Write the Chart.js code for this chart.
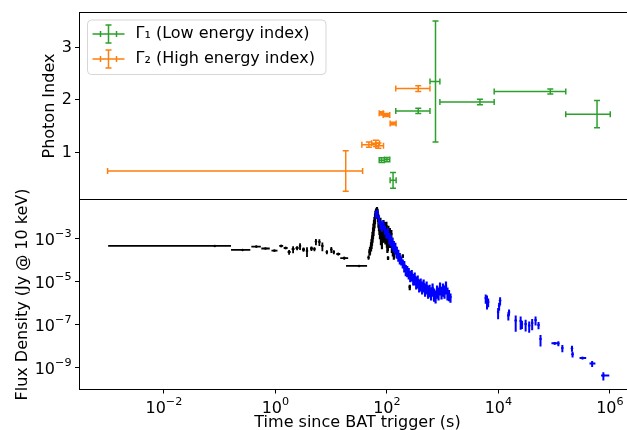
<!DOCTYPE html>
<html>
<head>
<meta charset="utf-8">
<script src="https://cdn.jsdelivr.net/npm/chart.js@4.4.1/dist/chart.umd.min.js"></script>
<style>
html, body { margin: 0; padding: 0; background: #fff; overflow: hidden; width: 627px; height: 430px; }
#wrap { position: relative; width: 640px; height: 440px; }
canvas { position: absolute; left: 0; top: 0; }
</style>
</head>
<body>
<div id="wrap">
<canvas id="fluxChart" width="640" height="440"></canvas>
<canvas id="indexChart" width="640" height="440"></canvas>
</div>
<script>
// photon index, Gamma 1 (low energy)
var g1Time = [78.2, 98, 126, 356, 725, 4530, 82400, 566000];
var g1TimeLo = [71.2, 88.5, 111.7, 141, 578, 869, 8150, 156000];
var g1TimeHi = [88.5, 110, 143, 577, 869, 8150, 156000, 975000];
var g1Index = [0.855, 0.865, 0.47, 1.79, 2.35, 1.96, 2.16, 1.73];
var g1Err = [0.045, 0.04, 0.15, 0.05, 1.15, 0.053, 0.047, 0.26];

// photon index, Gamma 2 (high energy)
var g2Time = [17.9, 46.5, 62, 69, 78.2, 96, 126, 356];
var g2TimeLo = [0.000975, 34.8, 52, 62, 71.2, 84, 111.7, 141];
var g2TimeHi = [35.9, 62, 72, 85, 84, 110, 143, 577];
var g2Index = [0.65, 1.15, 1.175, 1.13, 1.746, 1.714, 1.551, 2.216];
var g2Err = [0.385, 0.05, 0.06, 0.05, 0.03, 0.03, 0.025, 0.056];

// BAT binned light curve (black)
var batTime = [0.0817, 0.258, 0.454, 0.664, 0.961, 1.27, 1.527, 1.762, 2.077, 2.448, 2.767, 3.194, 3.688, 4.434, 5.015, 5.333, 6.156, 6.96, 8.37, 10.07, 11.16, 13.42, 17.17, 31.7, 46.9];
var batTimeLo = [0.001, 0.160, 0.370, 0.559, 0.850, 1.170, 1.406, 1.658, 1.953, 2.301, 2.656, 3.005, 3.539, 4.171, 4.813, 5.226, 6.032, 6.82, 8.04, 9.67, 10.71, 12.37, 14.56, 18.5, 45.9];
var batTimeHi = [0.160, 0.355, 0.548, 0.792, 1.091, 1.379, 1.658, 1.875, 2.208, 2.603, 2.884, 3.398, 3.843, 4.716, 5.226, 5.445, 6.28, 7.11, 8.72, 10.49, 11.62, 14.56, 20.2, 44.1, 48.0];
var batFlux = [4.6e-4, 3.0e-4, 4.3e-4, 3.5e-4, 2.8e-4, 4.6e-4, 3.7e-4, 2.4e-4, 3.3e-4, 3.7e-4, 4.6e-4, 3.15e-4, 2.7e-4, 3.5e-4, 3.3e-4, 7.4e-4, 7.0e-4, 4.6e-4, 2.4e-4, 3.15e-4, 2.4e-4, 1.94e-4, 1.26e-4, 5.4e-5, 1.34e-4];
var batFluxErr = [2e-5, 2e-5, 3e-5, 3e-5, 3e-5, 6e-5, 5e-5, 6e-5, 1.2e-4, 8e-5, 1.6e-4, 7e-5, 1.3e-4, 8e-5, 7e-5, 2.4e-4, 2.4e-4, 2.0e-4, 5e-5, 1.0e-4, 5e-5, 3e-5, 2e-5, 5e-6, 3e-5];

// BAT around the flare (black, fine bins)
var batPeakTime = [48.8, 49.8, 51.9, 53.0, 54.1, 55.2, 56.4, 57.5, 58.7, 59.9,
  61.2, 62.4, 63.7, 65.0, 66.4, 67.8, 69.2, 70.6, 72.1, 73.6,
  75.1, 76.6, 78.2, 79.8, 81.5, 83.2, 84.9, 86.6, 88.4, 90.2,
  92.1, 94.0, 96.0, 98.0, 100, 102, 104.2, 104.8, 106.3, 108.5,
  110.8, 113, 115.4, 117.8, 120.2, 122.7, 125.3, 127.8, 130.5, 133.2,
  135.7, 193, 257];
var batPeakFlux = [2.4e-4, 2.98e-4, 4.57e-4, 6.3e-4, 8.7e-4, 1.34e-3, 2.05e-3, 3.15e-3, 4.83e-3, 6.6e-3,
  9.2e-3, 1.41e-2, 1.75e-2, 2.05e-2, 2.16e-2, 1.75e-2, 1.14e-2, 8.24e-3, 6.0e-3, 3.9e-3,
  2.54e-3, 6.0e-3, 1.34e-3, 2.05e-3, 8.7e-4, 3.15e-3, 1.65e-3, 4.83e-3, 3.15e-3, 1.65e-3,
  3.9e-3, 1.34e-3, 2.05e-3, 3.9e-3, 1.08e-3, 5.66e-4, 7.0e-4, 1.26e-4, 2.54e-3, 1.34e-3,
  8.7e-4, 2.05e-3, 1.34e-3, 8.7e-4, 1.65e-3, 4.57e-4, 7.0e-4, 2.98e-4, 3.69e-4, 1.94e-4,
  2.4e-4, 1.57e-4, 5.6e-6];
var batPeakErr = [8e-5, 1.2e-4, 2e-4, 3e-4, 4e-4, 7e-4, 1.1e-3, 1.8e-3, 2.6e-3, 3.5e-3,
  4.5e-3, 6e-3, 6e-3, 6e-3, 8e-3, 7e-3, 5.5e-3, 5e-3, 3.8e-3, 2.4e-3,
  1.6e-3, 3.5e-3, 8.5e-4, 1.3e-3, 5.5e-4, 1.8e-3, 1.0e-3, 2.6e-3, 1.7e-3, 1.0e-3,
  2.1e-3, 8e-4, 1.3e-3, 2.2e-3, 7e-4, 3.5e-4, 4.4e-4, 2.5e-5, 1.5e-3, 8e-4,
  5e-4, 1.1e-3, 8e-4, 5e-4, 9e-4, 2.4e-4, 4e-4, 1.5e-4, 1.8e-4, 9e-5,
  1.1e-4, 3e-5, 1.6e-6];

// XRT windowed timing (blue)
var wtTime = [63.7, 67.7, 72.0, 76.6, 81.5, 86.6, 92.1, 98.0, 104.2, 110.8,
  117.8, 125.3, 133.2, 141.7, 150.7, 160.2, 170.4, 181.2, 192.7, 204.9,
  218.2, 232, 246.7, 262.4, 279, 296.7, 315.5, 335.5, 356.8, 379.4,
  403.6, 429, 456, 485, 516, 549, 584, 621, 660, 702,
  746.6, 794, 844, 898, 955, 1015, 1080, 1148, 1221, 1299, 1381];
var wtFlux = [1.41e-2, 1.57e-2, 8.24e-3, 4.83e-3, 3.90e-3, 4.83e-3, 2.83e-3, 1.84e-3, 2.05e-3, 1.20e-3,
  9.68e-4, 7.03e-4, 5.09e-4, 4.11e-4, 2.68e-4, 1.94e-4, 1.41e-4, 1.02e-4, 7.41e-5, 5.98e-5,
  3.90e-5, 3.50e-5, 2.82e-5, 2.05e-5, 2.28e-5, 1.49e-5, 1.66e-5, 1.08e-5, 1.20e-5, 7.82e-6,
  8.71e-6, 6.31e-6, 7.82e-6, 5.09e-6, 6.31e-6, 4.11e-6, 4.57e-6, 3.32e-6, 5.09e-6, 2.98e-6,
  2.41e-6, 4.11e-6, 3.32e-6, 5.66e-6, 3.69e-6, 5.09e-6, 4.11e-6, 6.31e-6, 3.32e-6, 2.68e-6, 1.94e-6];
var wtErr = [5.6e-3, 6.3e-3, 3.7e-3, 2.2e-3, 1.8e-3, 2.2e-3, 1.3e-3, 8.3e-4, 1.1e-3, 6.6e-4,
  5.3e-4, 3.9e-4, 2.8e-4, 2.3e-4, 1.5e-4, 1.1e-4, 7.8e-5, 4.6e-5, 3.3e-5, 3.3e-5,
  2.1e-5, 1.9e-5, 1.55e-5, 1.1e-5, 1.25e-5, 8.2e-6, 1.0e-5, 6.5e-6, 7.2e-6, 4.7e-6,
  5.2e-6, 3.8e-6, 4.7e-6, 3.1e-6, 3.8e-6, 2.5e-6, 2.7e-6, 2.0e-6, 3.1e-6, 1.8e-6,
  1.45e-6, 2.5e-6, 2.0e-6, 3.4e-6, 2.2e-6, 3.1e-6, 2.5e-6, 3.8e-6, 2.0e-6, 1.45e-6, 9e-7];

// XRT photon counting (blue)
var pcTime = [5924, 6247, 6561, 9886, 10300, 10733, 15086, 15524, 20432, 25070, 26460, 30780, 35690, 40360, 46410, 52480, 56960, 102300, 119100, 140400, 209000, 214000, 322800, 480500, 763600];
var pcTimeLo = [5800, 6150, 6450, 9750, 10150, 10600, 14900, 15350, 20200, 24800, 26200, 30450, 35300, 39950, 45950, 51950, 56400, 89430, 117000, 138000, 206000, 211000, 285500, 430100, 695000];
var pcTimeHi = [6050, 6350, 6680, 10020, 10450, 10870, 15280, 15700, 20660, 25350, 26720, 31100, 36080, 40780, 46880, 53000, 57500, 122100, 121000, 143000, 212000, 217000, 375700, 550100, 977000];
var pcFlux = [1.75e-6, 1.41e-6, 1.14e-6, 3.90e-7, 7.41e-7, 1.34e-6, 2.68e-7, 3.90e-7, 1.57e-7, 1.49e-7, 1.08e-7, 1.08e-7, 9.18e-8, 1.20e-7, 1.66e-7, 9.69e-8, 2.16e-8, 1.36e-8, 1.34e-8, 8.24e-9, 7.97e-9, 4.25e-9, 2.82e-9, 1.57e-9, 4.34e-10];
var pcErr = [8e-7, 9e-7, 5e-7, 2.1e-7, 3e-7, 5.5e-7, 1.1e-7, 1.2e-7, 1.1e-7, 9e-8, 4.5e-8, 6e-8, 5e-8, 6.5e-8, 7.5e-8, 3.5e-8, 1.2e-8, 2e-9, 3.5e-9, 3e-9, 2.5e-9, 1.3e-9, 4e-10, 5e-10, 1.8e-10];

// axis ticks
var timeTicks = [1e-2, 1, 1e2, 1e4, 1e6];
var timeTickExp = ['\u22122', '0', '2', '4', '6'];
var fluxTicks = [1e-9, 1e-7, 1e-5, 1e-3];
var fluxTickExp = ['\u22129', '\u22127', '\u22125', '\u22123'];
var indexTicks = [1, 2, 3];

var xMin = 3.41e-4, xMax = 2.94e6;
var FONT = "'DejaVu Sans', sans-serif";

Chart.defaults.font.family = FONT;
Chart.defaults.font.size = 16;
Chart.defaults.color = '#000';

function points(xs, ys) {
    return xs.map(function (x, i) { return {x: x, y: ys[i]}; });
}
function minus(v, e) { return v.map(function (a, i) { return a - e[i]; }); }
function plus(v, e) { return v.map(function (a, i) { return a + e[i]; }); }

function fixTicks(values) {
    return function (scale) {
        scale.ticks = values.map(function (v) { return {value: v}; });
    };
}

// draws error bars after each dataset, through its scales
var errorBarPlugin = {
    id: 'errorBars',
    afterDatasetDraw: function (chart, args) {
        var ds = chart.data.datasets[args.index];
        var eb = ds.errorBars;
        if (!eb) return;
        var xs = chart.scales[args.meta.xAxisID], ys = chart.scales[args.meta.yAxisID];
        var ctx = chart.ctx, a = chart.chartArea, cap = eb.cap || 0;
        ctx.save();
        ctx.beginPath();
        ctx.rect(a.left, a.top, a.right - a.left, a.bottom - a.top);
        ctx.clip();
        ctx.strokeStyle = ds.borderColor;
        ctx.lineWidth = eb.width;
        ds.data.forEach(function (p, j) {
            var x = xs.getPixelForValue(p.x), y = ys.getPixelForValue(p.y);
            ctx.beginPath();
            if (eb.xLo) {
                var x0 = xs.getPixelForValue(eb.xLo[j]), x1 = xs.getPixelForValue(eb.xHi[j]);
                ctx.moveTo(x0, y); ctx.lineTo(x1, y);
                if (cap) {
                    ctx.moveTo(x0, y - cap); ctx.lineTo(x0, y + cap);
                    ctx.moveTo(x1, y - cap); ctx.lineTo(x1, y + cap);
                }
            }
            if (eb.yLo) {
                var y0 = ys.getPixelForValue(eb.yLo[j]), y1 = ys.getPixelForValue(eb.yHi[j]);
                ctx.moveTo(x, y0); ctx.lineTo(x, y1);
                if (cap) {
                    ctx.moveTo(x - cap, y0); ctx.lineTo(x + cap, y0);
                    ctx.moveTo(x - cap, y1); ctx.lineTo(x + cap, y1);
                }
            }
            ctx.stroke();
        });
        ctx.restore();
    }
};

// box round the plot area (matplotlib spines)
var framePlugin = {
    id: 'frame',
    afterDraw: function (chart) {
        var a = chart.chartArea, ctx = chart.ctx;
        var l = Math.floor(a.left) + 0.5, t = Math.floor(a.top) + 0.5;
        var r = Math.floor(a.right) + 0.5, b = Math.floor(a.bottom) + 0.5;
        ctx.save();
        ctx.strokeStyle = '#000';
        ctx.lineWidth = 1;
        ctx.strokeRect(l, t, r - l, b - t);
        ctx.restore();
    }
};

// "10" with a raised exponent, like matplotlib's mathtext tick labels
function drawPower(ctx, exp, x, y, align) {
    ctx.font = '16px ' + FONT;
    var wb = ctx.measureText('10').width;
    ctx.font = '11.2px ' + FONT;
    var we = ctx.measureText(exp).width;
    var start = align === 'right' ? x - wb - we : x - (wb + we) / 2;
    ctx.font = '16px ' + FONT;
    ctx.fillText('10', start, y);
    ctx.font = '11.2px ' + FONT;
    ctx.fillText(exp, start + wb, y - 7.5);
}

var powerTickPlugin = {
    id: 'powerTicks',
    afterDraw: function (chart) {
        var ctx = chart.ctx, xs = chart.scales.x, ys = chart.scales.y;
        ctx.save();
        ctx.fillStyle = '#000';
        ctx.textAlign = 'left';
        ctx.textBaseline = 'alphabetic';
        timeTicks.forEach(function (v, i) {
            drawPower(ctx, timeTickExp[i], xs.getPixelForValue(v), xs.top + 23, 'center');
        });
        fluxTicks.forEach(function (v, i) {
            drawPower(ctx, fluxTickExp[i], ys.right - 7.5, ys.getPixelForValue(v) + 6, 'right');
        });
        ctx.restore();
    }
};

// legend with error bar glyphs, upper left inside the axes
var legendPlugin = {
    id: 'indexLegend',
    afterDraw: function (chart) {
        var ctx = chart.ctx, a = chart.chartArea;
        var left = Math.floor(a.left) + 8.5, top = Math.floor(a.top) + 8;
        var w = 238.5, h = 54.5, r = 4;
        ctx.save();
        ctx.beginPath();
        ctx.moveTo(left + r, top);
        ctx.arcTo(left + w, top, left + w, top + h, r);
        ctx.arcTo(left + w, top + h, left, top + h, r);
        ctx.arcTo(left, top + h, left, top, r);
        ctx.arcTo(left, top, left + w, top, r);
        ctx.closePath();
        ctx.fillStyle = 'rgba(255,255,255,0.8)';
        ctx.fill();
        ctx.strokeStyle = 'rgba(204,204,204,0.8)';
        ctx.lineWidth = 1;
        ctx.stroke();
        chart.data.datasets.forEach(function (ds, i) {
            var cy = top + 14 + i * 25, cx = left + 21;
            ctx.strokeStyle = ds.borderColor;
            ctx.lineWidth = 1.5;
            ctx.beginPath();
            ctx.moveTo(cx - 16, cy); ctx.lineTo(cx + 16, cy);
            ctx.moveTo(cx - 8, cy - 3); ctx.lineTo(cx - 8, cy + 3);
            ctx.moveTo(cx + 8, cy - 3); ctx.lineTo(cx + 8, cy + 3);
            ctx.moveTo(cx, cy - 9); ctx.lineTo(cx, cy + 9);
            ctx.moveTo(cx - 3, cy - 9); ctx.lineTo(cx + 3, cy - 9);
            ctx.moveTo(cx - 3, cy + 9); ctx.lineTo(cx + 3, cy + 9);
            ctx.stroke();
            ctx.fillStyle = '#000';
            ctx.font = '16px ' + FONT;
            ctx.textBaseline = 'middle';
            ctx.fillText(ds.label, left + 48, cy);
        });
        ctx.restore();
    }
};

var axisGrid = {display: true, drawOnChartArea: false, drawTicks: true, tickLength: 4, tickWidth: 1, tickColor: '#000'};
var axisBorder = {display: true, color: '#000', width: 1};

new Chart(document.getElementById('indexChart'), {
    type: 'scatter',
    data: {
        datasets: [{
            label: 'Γ₁ (Low energy index)',
            data: points(g1Time, g1Index),
            borderColor: '#2ca02c',
            backgroundColor: '#2ca02c',
            pointRadius: 0,
            errorBars: {xLo: g1TimeLo, xHi: g1TimeHi, yLo: minus(g1Index, g1Err), yHi: plus(g1Index, g1Err), width: 1.5, cap: 3}
        }, {
            label: 'Γ₂ (High energy index)',
            data: points(g2Time, g2Index),
            borderColor: '#ff7f0e',
            backgroundColor: '#ff7f0e',
            pointRadius: 0,
            errorBars: {xLo: g2TimeLo, xHi: g2TimeHi, yLo: minus(g2Index, g2Err), yHi: plus(g2Index, g2Err), width: 1.5, cap: 3}
        }]
    },
    options: {
        responsive: false,
        animation: false,
        events: [],
        layout: {padding: {left: 0, right: 3, top: 10.5, bottom: 240.5}},
        plugins: {legend: {display: false}, tooltip: {enabled: false}},
        scales: {
            x: {type: 'logarithmic', display: false, min: xMin, max: xMax},
            y: {
                type: 'linear',
                min: 0.106,
                max: 3.662,
                afterFit: function (s) { s.width = 79; },
                afterBuildTicks: fixTicks(indexTicks),
                grid: axisGrid,
                border: axisBorder,
                ticks: {padding: 3, color: '#000'},
                title: {display: true, text: 'Photon Index', color: '#000', padding: {top: 40, bottom: 0}}
            }
        }
    },
    plugins: [errorBarPlugin, framePlugin, legendPlugin]
});

new Chart(document.getElementById('fluxChart'), {
    type: 'scatter',
    data: {
        datasets: [{
            label: 'BAT',
            data: points(batTime, batFlux),
            borderColor: '#000',
            backgroundColor: '#000',
            pointRadius: 1.3,
            pointBorderWidth: 0,
            order: 2,
            errorBars: {xLo: batTimeLo, xHi: batTimeHi, yLo: minus(batFlux, batFluxErr), yHi: plus(batFlux, batFluxErr), width: 1.8}
        }, {
            label: 'BAT flare',
            data: points(batPeakTime, batPeakFlux),
            borderColor: '#000',
            backgroundColor: '#000',
            pointRadius: 1.3,
            pointBorderWidth: 0,
            order: 2,
            errorBars: {yLo: minus(batPeakFlux, batPeakErr), yHi: plus(batPeakFlux, batPeakErr), width: 2.2}
        }, {
            label: 'XRT WT',
            data: points(wtTime, wtFlux),
            borderColor: '#0000ff',
            backgroundColor: '#0000ff',
            pointRadius: 1.3,
            pointBorderWidth: 0,
            order: 1,
            errorBars: {yLo: minus(wtFlux, wtErr), yHi: plus(wtFlux, wtErr), width: 2.2}
        }, {
            label: 'XRT PC',
            data: points(pcTime, pcFlux),
            borderColor: '#0000ff',
            backgroundColor: '#0000ff',
            pointRadius: 1.3,
            pointBorderWidth: 0,
            order: 1,
            errorBars: {xLo: pcTimeLo, xHi: pcTimeHi, yLo: minus(pcFlux, pcErr), yHi: plus(pcFlux, pcErr), width: 2}
        }]
    },
    options: {
        responsive: false,
        animation: false,
        events: [],
        layout: {padding: {left: 0, right: 3, top: 199.5, bottom: 0}},
        plugins: {legend: {display: false}, tooltip: {enabled: false}},
        scales: {
            x: {
                type: 'logarithmic',
                min: xMin,
                max: xMax,
                afterFit: function (s) { s.height = 50.5; },
                afterBuildTicks: fixTicks(timeTicks),
                grid: axisGrid,
                border: axisBorder,
                ticks: {padding: 4, maxRotation: 0, autoSkip: false, callback: function () { return ''; }},
                title: {display: true, text: 'Time since BAT trigger (s)', color: '#000', padding: {top: 0, bottom: 7.5}}
            },
            y: {
                type: 'logarithmic',
                min: 9.7e-11,
                max: 0.0665,
                afterFit: function (s) { s.width = 79; },
                afterBuildTicks: fixTicks(fluxTicks),
                grid: axisGrid,
                border: axisBorder,
                ticks: {padding: 3, autoSkip: false, callback: function () { return ''; }},
                title: {display: true, text: 'Flux Density (Jy @ 10 keV)', color: '#000', padding: {top: 13, bottom: 0}}
            }
        }
    },
    plugins: [errorBarPlugin, framePlugin, powerTickPlugin]
});
</script>
</body>
</html>
